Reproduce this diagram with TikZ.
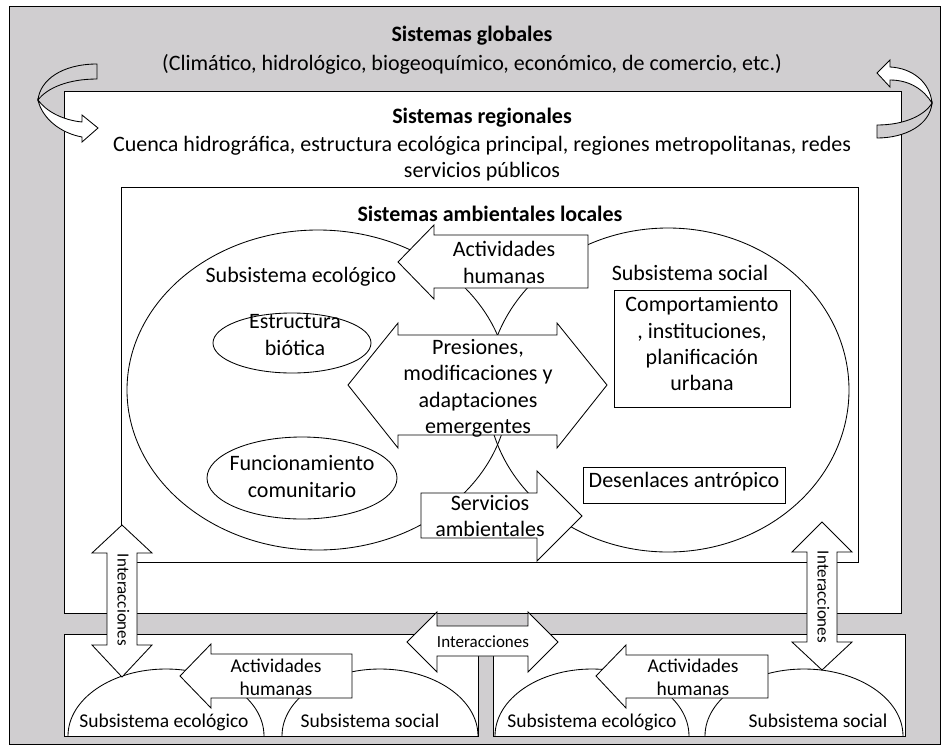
\documentclass[tikz,border=0pt]{standalone}
\usepackage{fontspec}
\setmainfont{Carlito}
\definecolor{bg}{RGB}{208,206,208}
\newcommand\fA{\fontsize{22}{26}\selectfont}
\newcommand\fB{\fontsize{19.5}{23}\selectfont}
\newcommand\fC{\fontsize{17}{20}\selectfont}
\begin{document}
\begin{tikzpicture}[x=1pt,y=-1pt,line width=0.85pt,line join=miter,
  blk/.style={draw,fill=white},
  lnA/.style={anchor=base,inner sep=0pt,font=\fA},
  lnAb/.style={anchor=base,inner sep=0pt,font=\fA\bfseries},
  lnB/.style={anchor=base,inner sep=0pt,font=\fB},
  lnC/.style={anchor=base,inner sep=0pt,font=\fC}]
\useasboundingbox (0,0) rectangle (943,748);
% frames
\draw[fill=bg] (9,6) rectangle (940,744);
\draw[fill=white] (64,91) rectangle (901,613);
\draw (121,187) rectangle (858,562);
% curved arrows (left)
\draw[fill=bg] (97,64) .. controls (62,64) and (40,80) .. (38,100)
  .. controls (47,88) and (68,79) .. (97,79) -- cycle;
\draw[fill=white] (38,100) .. controls (42,118) and (60,133) .. (82,137)
  -- (82,142) -- (98,128) -- (82,115) -- (82,122)
  .. controls (62,120) and (46,111) .. (38,100) -- cycle;
% curved arrows (right)
\draw[fill=white] (890,67) .. controls (912,68) and (930,82) .. (932,103)
  .. controls (924,90) and (910,80) .. (890,80) -- (890,87) -- (877,73) -- (890,60) -- cycle;
\draw[fill=bg] (932,103) .. controls (930,125) and (905,138) .. (877,138)
  -- (877,125) .. controls (905,125) and (925,115) .. (932,103) -- cycle;
% subsystems
\draw (318,390) ellipse [x radius=191pt, y radius=160pt];
\draw (668,390) ellipse [x radius=181pt, y radius=162pt];
\draw (292,343) ellipse [x radius=79pt, y radius=30pt];
\draw (302,478) ellipse [x radius=95pt, y radius=41pt];
\draw (614,290) rectangle (790,407);
\draw (583,467) rectangle (785,503);
% block arrows
\draw[blk] (398,262) -- (434,225) -- (434,235) -- (588,235) -- (588,288) -- (434,288) -- (434,299) -- cycle;
\draw[blk] (348,385) -- (398,323) -- (398,335) -- (557,335) -- (557,323) -- (607,385)
  -- (557,448) -- (557,435) -- (398,435) -- (398,448) -- cycle;
\draw[blk] (421,493) -- (537,493) -- (537,471) -- (582,516) -- (537,561) -- (537,538) -- (421,538) -- cycle;
% bottom panels
\draw[fill=white] (64,634) rectangle (478,736);
\draw[fill=white] (493,634) rectangle (905,736);
\draw (68,736) arc[start angle=180,end angle=0,x radius=98pt,y radius=67pt];
\draw (282,736) arc[start angle=180,end angle=0,x radius=98pt,y radius=67pt];
\draw (495,736) arc[start angle=180,end angle=0,x radius=97pt,y radius=67pt];
\draw (705,736) arc[start angle=180,end angle=0,x radius=99pt,y radius=67pt];
\draw[blk] (180,676) -- (211,644) -- (211,654) -- (352,654) -- (352,698) -- (211,698) -- (211,708) -- cycle;
\draw[blk] (596,676) -- (626,645) -- (626,655) -- (768,655) -- (768,698) -- (626,698) -- (626,708) -- cycle;
% interaction arrows
\draw[blk] (122,525) -- (152,553) -- (137,553) -- (137,645) -- (152,645) -- (122,677)
  -- (92,645) -- (107,645) -- (107,553) -- (92,553) -- cycle;
\draw[blk] (822,522) -- (852,552) -- (837,552) -- (837,642) -- (852,642) -- (822,670)
  -- (792,642) -- (807,642) -- (807,552) -- (792,552) -- cycle;
\draw[blk] (407,642) -- (437,612) -- (437,626) -- (528,626) -- (528,612) -- (558,642)
  -- (528,672) -- (528,656) -- (437,656) -- (437,672) -- cycle;
% texts
\node[lnAb] (tg1) at (472,41) {Sistemas globales};
\node[lnA] (tg2) at (472,70) {(Climático, hidrológico, biogeoquímico, económico, de comercio, etc.)};
\node[lnAb] (tr1) at (482,123) {Sistemas regionales};
\node[lnA] (tr2) at (482,151) {Cuenca hidrográfica, estructura ecológica principal, regiones metropolitanas, redes};
\node[lnA] (tr3) at (482,177) {servicios públicos};
\node[lnAb] (tl1) at (490,221) {Sistemas ambientales locales};
\node[lnA] (se) at (301,282) {Subsistema ecológico};
\node[lnA] (ss) at (690,280) {Subsistema social};
\node[lnA] (ah1) at (504,256) {Actividades};
\node[lnA] (ah2) at (504,283) {humanas};
\node[lnA] (eb1) at (295,328) {Estructura};
\node[lnA] (eb2) at (295,355) {biótica};
\node[lnA] (pm1) at (478,354) {Presiones,};
\node[lnA] (pm2) at (478,380.5) {modificaciones y};
\node[lnA] (pm3) at (478,407) {adaptaciones};
\node[lnA] (pm4) at (478,433.5) {emergentes};
\node[lnA] (fc1) at (302,470) {Funcionamiento};
\node[lnA] (fc2) at (302,497) {comunitario};
\node[lnA] (co1) at (702,311) {Comportamiento};
\node[lnA] (co2) at (702,338) {, instituciones,};
\node[lnA] (co3) at (702,364) {planificación};
\node[lnA] (co4) at (702,390) {urbana};
\node[lnA] (de) at (684,487) {Desenlaces antrópico};
\node[lnA] (sa1) at (490,510) {Servicios};
\node[lnA] (sa2) at (490,536) {ambientales};
\node[lnB] (la1) at (276,672) {Actividades};
\node[lnB] (la2) at (276,695) {humanas};
\node[lnB] (lse) at (164,727) {Subsistema ecológico};
\node[lnB] (lss) at (370,727) {Subsistema social};
\node[lnB] (ra1) at (693,672) {Actividades};
\node[lnB] (ra2) at (693,695) {humanas};
\node[lnB] (rse) at (592,727) {Subsistema ecológico};
\node[lnB] (rss) at (818,727) {Subsistema social};
\node[lnC] (ih) at (483,647) {Interacciones};
\node[lnC,rotate=-90] (iv1) at (117.5,600) {Interacciones};
\node[lnC,rotate=-90] (iv2) at (817.5,597) {Interacciones};
\end{tikzpicture}
\end{document}
